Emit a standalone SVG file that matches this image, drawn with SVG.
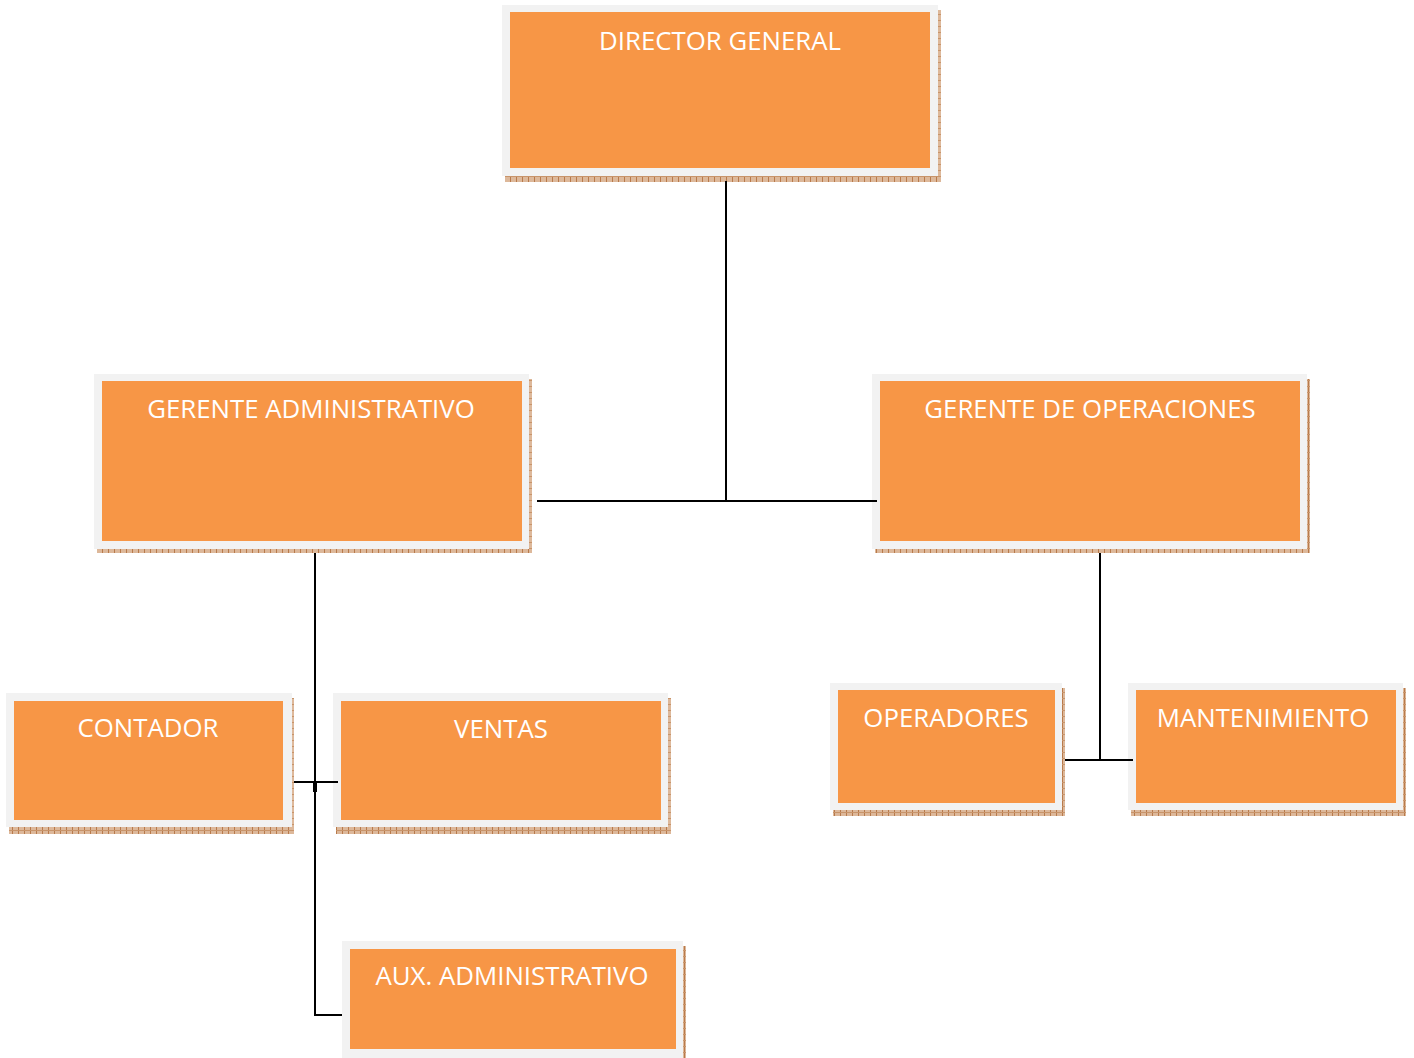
<svg xmlns="http://www.w3.org/2000/svg" width="1414" height="1058" viewBox="0 0 1414 1058">
<defs>
<pattern id="sh" width="6" height="6" patternUnits="userSpaceOnUse">
<rect width="6" height="6" fill="#DDB89A"/>
<rect x="0" y="0" width="1" height="6" fill="#B87A4B"/>
<rect x="0" y="2" width="6" height="1" fill="#C8946A"/>
</pattern>
</defs>
<style>
.sh{fill:url(#sh)}
.out{fill:#F2F2F2}
.in{fill:#F79646}
.t{fill:#FFFFFF;font-family:"Open Sans","Liberation Sans",sans-serif;font-size:25.8px;text-anchor:middle}
.c{stroke:#000;stroke-width:2;fill:none}
</style>
<rect width="1414" height="1058" fill="#FFFFFF"/>
<g id="director">
<rect class="sh" x="505" y="10" width="436" height="172"/>
<rect class="out" x="502" y="5" width="436" height="171"/>
<rect class="in" x="510" y="12" width="420" height="156"/>
<text class="t" x="720" y="50">DIRECTOR GENERAL</text>
</g>
<g id="gerente-admin">
<rect class="sh" x="97" y="379" width="435" height="174"/>
<rect class="out" x="94" y="374" width="435" height="175"/>
<rect class="in" x="102" y="381" width="420" height="160"/>
<text class="t" x="311" y="418">GERENTE ADMINISTRATIVO</text>
</g>
<g id="gerente-oper">
<rect class="sh" x="875" y="379" width="435" height="174"/>
<rect class="out" x="872" y="374" width="435" height="175"/>
<rect class="in" x="880" y="381" width="420" height="160"/>
<text class="t" x="1090" y="418">GERENTE DE OPERACIONES</text>
</g>
<g id="contador">
<rect class="sh" x="9" y="698" width="285" height="136"/>
<rect class="out" x="6" y="693" width="286" height="134"/>
<rect class="in" x="14" y="701" width="269" height="119"/>
<text class="t" x="148" y="737">CONTADOR</text>
</g>
<g id="ventas">
<rect class="sh" x="336" y="698" width="335" height="136"/>
<rect class="out" x="333" y="693" width="335" height="134"/>
<rect class="in" x="341" y="701" width="320" height="119"/>
<text class="t" x="501" y="738">VENTAS</text>
</g>
<g id="operadores">
<rect class="sh" x="833" y="688" width="232" height="128"/>
<rect class="out" x="830" y="683" width="232" height="127"/>
<rect class="in" x="838" y="690" width="217" height="113"/>
<text class="t" x="946" y="727">OPERADORES</text>
</g>
<g id="mantenimiento">
<rect class="sh" x="1131" y="688" width="275" height="128"/>
<rect class="out" x="1128" y="683" width="275" height="127"/>
<rect class="in" x="1136" y="690" width="260" height="113"/>
<text class="t" x="1263" y="727">MANTENIMIENTO</text>
</g>
<g id="aux-admin">
<rect class="sh" x="345" y="946" width="341" height="112"/>
<rect class="out" x="342" y="941" width="341" height="117"/>
<rect class="in" x="350" y="949" width="326" height="100"/>
<text class="t" x="512" y="985">AUX. ADMINISTRATIVO</text>
</g>
<g id="connectors">
<path class="c" d="M726 181V501M537 501H877"/>
<path class="c" d="M315 553V1015H342"/>
<path class="c" d="M294 782H338"/>
<path d="M315 782V792" stroke="#000" stroke-width="4"/>
<path class="c" d="M1100 553V760M1065 760H1133"/>
</g>
</svg>
